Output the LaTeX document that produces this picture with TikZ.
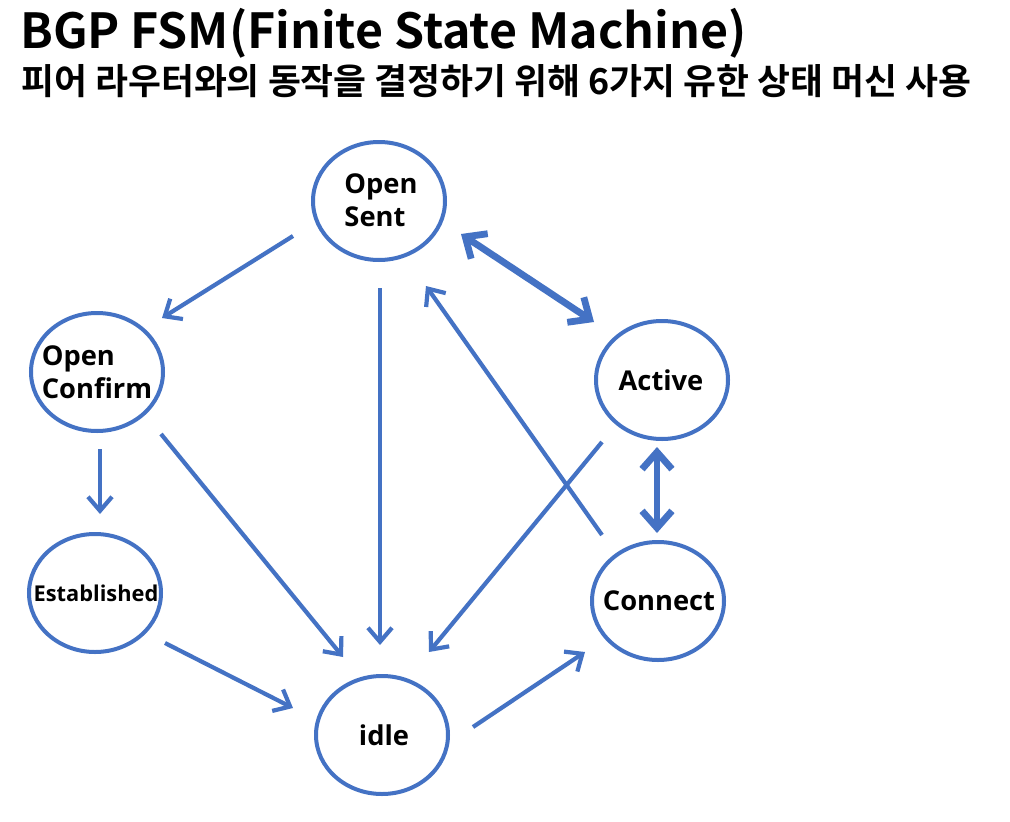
\documentclass[tikz,border=0pt]{standalone}
\usepackage{fontspec}
\newfontfamily\krfont{Noto Sans CJK KR Bold}
\newfontfamily\lblfont{Open Sans}
\usetikzlibrary{shapes.geometric,arrows.meta}
\definecolor{fsmblue}{HTML}{4472C4}
\tikzset{
  st/.style={ellipse,draw=fsmblue,line width=4pt,minimum width=132pt,minimum height=118pt,inner sep=0pt},
  lbl/.style={font=\lblfont\bfseries\fontsize{27.3}{33}\selectfont,align=left,inner sep=0pt},
  lblsmall/.style={font=\lblfont\bfseries\fontsize{21.8}{26}\selectfont,inner sep=0pt},
  arr/.style={draw=fsmblue,line width=4.2pt,-{Straight Barb[length=14pt,width=24pt]}},
  dbl/.style={draw=fsmblue,line width=6.8pt,{Straight Barb[length=17pt,width=30pt]}-{Straight Barb[length=17pt,width=30pt]}}
}
\begin{document}
\begin{tikzpicture}[x=1pt,y=-1pt]
\useasboundingbox[fill=white] (0,0) rectangle (1010,822);
\node[anchor=base west,inner sep=0pt,font=\krfont\fontsize{48.3}{52}\selectfont] (title) at (20,48) {BGP FSM(Finite State Machine)};
\node[anchor=base west,inner sep=0pt,font=\krfont\fontsize{35.8}{40}\selectfont] (sub) at (21,94) {피어 라우터와의 동작을 결정하기 위해 6가지 유한 상태 머신 사용};
% states
\node[st] (os) at (379,201) {};
\node[st] (oc) at (97,372) {};
\node[st] (es) at (95,593) {};
\node[st] (ac) at (662,380) {};
\node[st] (cn) at (658,601) {};
\node[st] (id) at (382,735) {};
% labels
\node[lbl] (oslbl) at ([shift={(2,-1)}]os.center) {Open\\Sent};
\node[lbl] (oclbl) at ([shift={(0,0)}]oc.center) {Open\\Confirm};
\node[lblsmall] (eslbl) at ([shift={(1,0)}]es.center) {Established};
\node[lbl] (aclbl) at ([shift={(-1,0)}]ac.center) {Active};
\node[lbl] (cnlbl) at ([shift={(1,0)}]cn.center) {Connect};
\node[lbl] (idlbl) at ([shift={(2,0)}]id.center) {idle};
% connectors
\draw[arr] ([shift={(-86,35)}]os.center) -- ([shift={(65,-54)}]oc.center);
\draw[arr] ([shift={(1,87)}]os.center) -- ([shift={(-2,-90)}]id.center);
\draw[dbl] ([shift={(82,33)}]os.center) -- ([shift={(-68,-58)}]ac.center);
\draw[arr] ([shift={(-56,-66)}]cn.center) -- ([shift={(47,85)}]os.center);
\draw[arr] ([shift={(-60,62)}]ac.center) -- ([shift={(47,-83)}]id.center);
\draw[arr] ([shift={(64,62)}]oc.center) -- ([shift={(-39,-78)}]id.center);
\draw[arr] ([shift={(3,77)}]oc.center) -- ([shift={(5,-79)}]es.center);
\draw[arr] ([shift={(70,50)}]es.center) -- ([shift={(-89,-27)}]id.center);
\draw[arr] ([shift={(91,-8)}]id.center) -- ([shift={(-73,51)}]cn.center);
\draw[dbl] ([shift={(-5,67)}]ac.center) -- ([shift={(-1,-68)}]cn.center);
\end{tikzpicture}
\end{document}
